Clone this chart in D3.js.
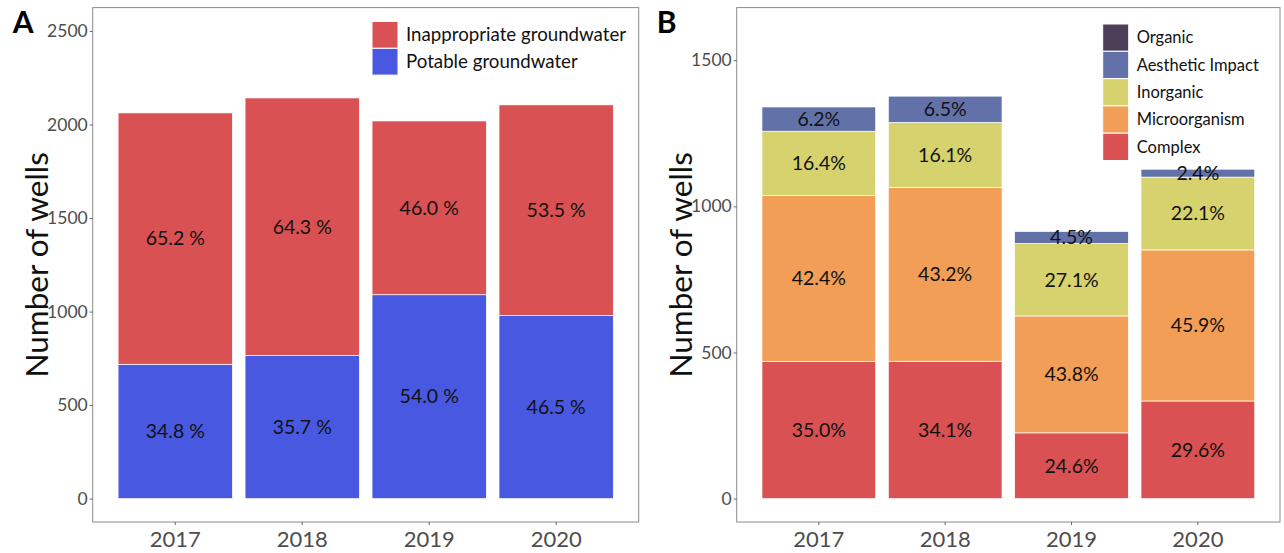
<!DOCTYPE html>
<html>
<head>
<meta charset="utf-8">
<script src="https://cdn.jsdelivr.net/npm/d3@7"></script>
<style>
  body { margin: 0; background: #fff; }
  text { font-family: "Myriad Pro", Lato, "Open Sans", sans-serif; }
</style>
</head>
<body>
<script>
// data
const years = ["2017", "2018", "2019", "2020"];

// panel A
const potable = [718, 765, 1090, 979];
const inappropriate = [1344, 1377, 929, 1126];
const potablePct = [34.8, 35.7, 54.0, 46.5];
const inappropriatePct = [65.2, 64.3, 46.0, 53.5];
const ticksA = [0, 500, 1000, 1500, 2000, 2500];

// panel B
const complex = [469, 470, 225, 334];
const microorganism = [568, 595, 400, 517];
const inorganic = [220, 222, 248, 249];
const aesthetic = [83, 90, 41, 27];
const organic = [0, 0, 0, 0];
const complexPct = [35.0, 34.1, 24.6, 29.6];
const microPct = [42.4, 43.2, 43.8, 45.9];
const inorganicPct = [16.4, 16.1, 27.1, 22.1];
const aestheticPct = [6.2, 6.5, 4.5, 2.4];
const ticksB = [0, 500, 1000, 1500];

const W = 1284, H = 553;
const svg = d3.select("body").append("svg")
    .attr("width", W)
    .attr("height", H);

// draws one stacked-bar panel
function panel(opt) {
  const x = d3.scaleBand()
    .domain(years)
    .range([opt.left, opt.right])
    .paddingInner(0.1)
    .paddingOuter(0.2);
  const y = d3.scaleLinear()
    .domain(opt.domain)
    .range([522, 7.6]);

  const g = svg.append("g");

  const rows = years.map((yr, i) => {
    const r = {year: yr};
    opt.series.forEach(s => { r[s.key] = s.values[i]; });
    return r;
  });
  const stacked = d3.stack().keys(opt.series.map(s => s.key))(rows);

  stacked.forEach((layer, li) => {
    const s = opt.series[li];
    g.append("g").selectAll("rect")
      .data(layer)
      .join("rect")
      .attr("x", d => x(d.data.year))
      .attr("width", x.bandwidth())
      .attr("y", d => y(d[1]))
      .attr("height", d => y(d[0]) - y(d[1]))
      .attr("fill", s.color)
      .attr("stroke", "#fff")
      .attr("stroke-width", 0.7);

    if (s.pct) {
      g.append("g").selectAll("text")
        .data(layer)
        .join("text")
        .attr("x", d => x(d.data.year) + x.bandwidth() / 2)
        .attr("y", d => (y(d[0]) + y(d[1])) / 2)
        .attr("dy", "0.35em")
        .attr("text-anchor", "middle")
        .style("font-size", "19.5px")
        .attr("fill", "#111")
        .text((d, i) => s.pct[i].toFixed(1) + opt.pctSuffix);
    }
  });

  // panel border
  g.append("rect")
    .attr("x", opt.left)
    .attr("y", 7.6)
    .attr("width", opt.right - opt.left)
    .attr("height", 522 - 7.6)
    .attr("fill", "none")
    .attr("stroke", "#8a8a8a")
    .attr("stroke-width", 1);

  // y axis
  const ya = g.append("g")
    .attr("transform", `translate(${opt.left},0)`)
    .call(d3.axisLeft(y).tickValues(opt.ticks).tickFormat(d3.format("d")).tickSize(3).tickPadding(2));
  ya.select(".domain").remove();
  ya.selectAll("line").attr("stroke", "#666");
  ya.selectAll("text").attr("fill", "#4d4d4d").style("font-size", "17.5px")
    .style("font-family", "'Myriad Pro', Lato, 'Open Sans', sans-serif");

  // x axis
  const xa = g.append("g")
    .attr("transform", "translate(0,522)")
    .call(d3.axisBottom(x).tickSize(3).tickPadding(6));
  xa.select(".domain").remove();
  xa.selectAll("line").attr("stroke", "#666");
  xa.selectAll("text").attr("fill", "#4d4d4d").style("font-size", "22px")
    .style("font-family", "'Myriad Pro', Lato, 'Open Sans', sans-serif");

  // y title
  g.append("text")
    .attr("transform", `translate(${opt.left - 56},${(522 + 7.6) / 2})rotate(-90)`)
    .attr("text-anchor", "middle")
    .attr("dy", "0.35em")
    .style("font-size", "31.5px")
    .attr("fill", "#111")
    .text("Number of wells");

  // panel letter
  g.append("text")
    .attr("x", opt.left - 80)
    .attr("y", 33)
    .style("font-size", "30px")
    .style("font-weight", "bold")
    .attr("fill", "#000")
    .text(opt.letter);

  // legend (top item first)
  const leg = g.append("g")
    .attr("transform", `translate(${opt.legend.x},${opt.legend.y})`);
  const items = opt.series.slice().reverse();
  items.forEach((s, i) => {
    leg.append("rect")
      .attr("x", 0)
      .attr("y", i * opt.legend.h)
      .attr("width", 26)
      .attr("height", opt.legend.h)
      .attr("fill", s.color)
      .attr("stroke", "#fff")
      .attr("stroke-width", 1);
    leg.append("text")
      .attr("x", 34)
      .attr("y", i * opt.legend.h + opt.legend.h / 2)
      .attr("dy", "0.35em")
      .style("font-size", opt.legend.fs + "px")
      .attr("fill", "#111")
      .text(s.label);
  });
}

panel({
  left: 92.7, right: 638.7,
  domain: [-125, 2625],
  ticks: ticksA,
  letter: "A",
  pctSuffix: " %",
  series: [
    {key: "potable", label: "Potable groundwater", values: potable, pct: potablePct, color: "#4858e0"},
    {key: "inappropriate", label: "Inappropriate groundwater", values: inappropriate, pct: inappropriatePct, color: "#d95152"}
  ],
  legend: {x: 372, y: 21.5, h: 26.8, fs: 18.7}
});

panel({
  left: 736.7, right: 1280,
  domain: [-80, 1680],
  ticks: ticksB,
  letter: "B",
  pctSuffix: "%",
  series: [
    {key: "complex", label: "Complex", values: complex, pct: complexPct, color: "#d95152"},
    {key: "micro", label: "Microorganism", values: microorganism, pct: microPct, color: "#f29e56"},
    {key: "inorganic", label: "Inorganic", values: inorganic, pct: inorganicPct, color: "#d6d26e"},
    {key: "aesthetic", label: "Aesthetic Impact", values: aesthetic, pct: aestheticPct, color: "#6272a8"},
    {key: "organic", label: "Organic", values: organic, pct: null, color: "#4a3f56"}
  ],
  legend: {x: 1102.7, y: 24, h: 27.3, fs: 16.5}
});
</script>
</body>
</html>
